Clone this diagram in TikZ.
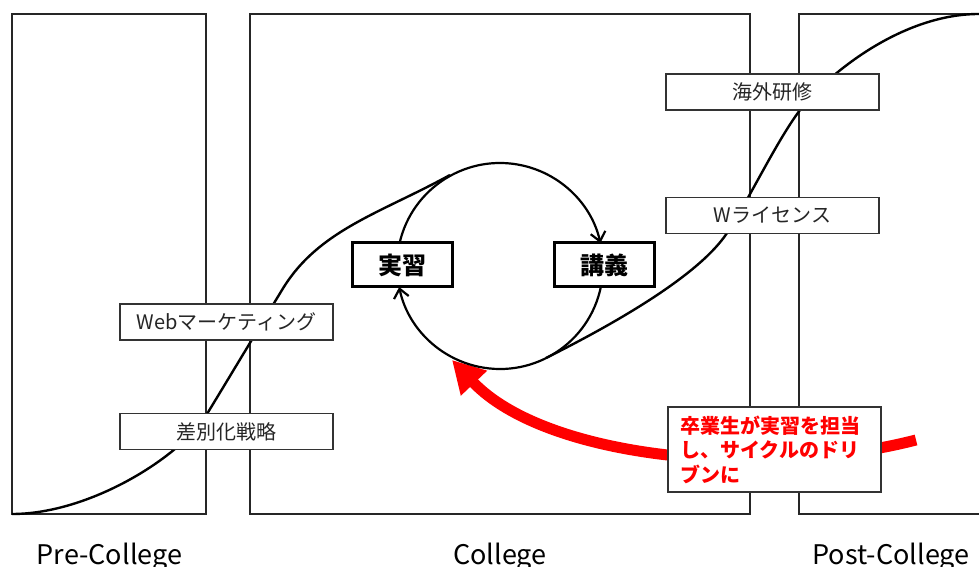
\documentclass[tikz,border=0pt]{standalone}
\usepackage{fontspec}
\setmainfont{Noto Sans CJK JP}
\usetikzlibrary{arrows.meta}
\begin{document}
\begin{tikzpicture}[x=1pt,y=1pt,
  region/.style={draw=black!85, line width=1.6pt},
  tbox/.style={draw=black!80, fill=white, line width=1.2pt, minimum width=213pt, minimum height=36pt, inner sep=0pt, text=black!85, font=\fontsize{20}{24}\selectfont},
  kbox/.style={draw=black, fill=white, line width=3pt, minimum width=100pt, minimum height=44pt, inner sep=0pt, font=\bfseries\fontsize{24}{28}\selectfont},
  scurve/.style={draw=black, line width=2.4pt},
  cyc/.style={draw=black, line width=2.2pt, -{Straight Barb[length=9pt,width=15pt]}},
  bigarrow/.style={draw=red, line width=11pt, -{Triangle[length=32pt,width=34pt]}},
  phase/.style={font=\fontsize{27}{31}\selectfont, anchor=base, inner sep=0pt}]
\useasboundingbox (0,0) rectangle (979,567);
% phase regions
\draw[region] (12,53) rectangle (206,553);
\draw[region] (250,53) rectangle (750,553);
\draw[region] (990,553) -- (799,553) -- (799,53) -- (990,53);
% S-curve
\draw[scurve] (12,53) .. controls (90,53) and (181,110.3) .. (207,153)
  .. controls (227.8,187.2) and (261.2,242.8) .. (282,277)
  .. controls (318,337) and (380,353.5) .. (450,392);
\draw[scurve] (546,209) .. controls (617.5,244.8) and (699.5,292.25) .. (727,334)
  .. controls (749,367.4) and (776,425) .. (800,457)
  .. controls (824,489) and (899,553) .. (979,553);
% red arrow
\coordinate (rs) at (916,127);
\coordinate (rt) at (452,207);
\draw[bigarrow] (rs) .. controls (760,87) and (545,109) .. (rt);
% boxes
\node[tbox] (kaigai) at (772.5,475) {海外研修};
\node[tbox] (wlic) at (772.5,351.5) {Wライセンス};
\node[tbox] (webm) at (226.5,245) {Webマーケティング};
\node[tbox] (sabetsu) at (226.5,135.5) {差別化戦略};
\node[kbox] (jisshu) at (402.5,302) {実習};
\node[kbox] (kogi) at (604,302) {講義};
\node[tbox, minimum height=85pt, text width=189pt, align=left, text=red,
  font=\bfseries\fontsize{20}{24.5}\selectfont] (note) at (774.5,117.5)
  {卒業生が実習を担当\\し、サイクルのドリ\\ブンに};
% cycle
\coordinate (cc) at (500,301);
\draw[cyc] ([shift={(167.1:103)}]cc) arc[start angle=167.1, end angle=12.9, radius=103];
\draw[cyc] ([shift={(-11.8:103)}]cc) arc[start angle=-11.8, end angle=-168.2, radius=103];
% phase labels
\node[phase] (pre) at (109.5,2) {Pre-College};
\node[phase] (col) at (500,2) {College};
\node[phase] (post) at (891,2) {Post-College};
\end{tikzpicture}
\end{document}
